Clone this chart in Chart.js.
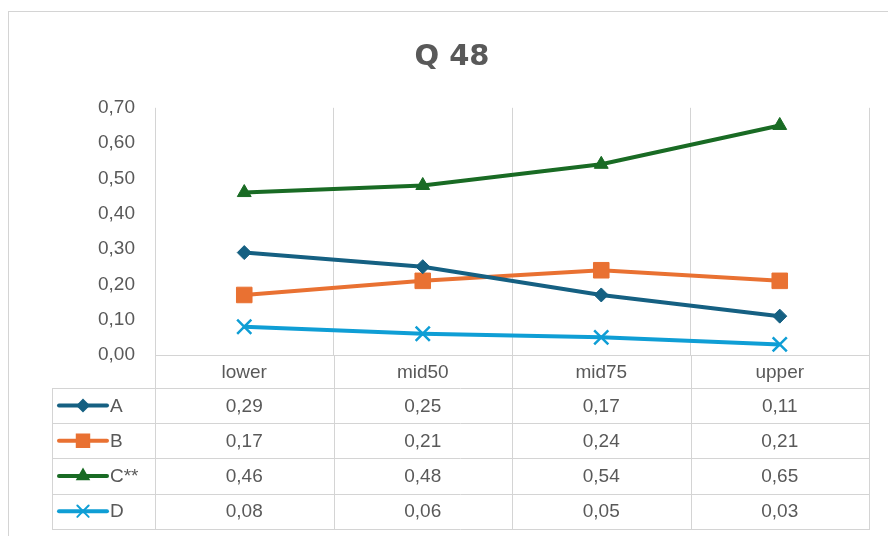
<!DOCTYPE html>
<html>
<head>
<meta charset="utf-8">
<script src="https://cdn.jsdelivr.net/npm/chart.js@4"></script>
<style>
  html, body { margin: 0; padding: 0; background: #fff; }
  canvas { display: block; }
</style>
</head>
<body>
<canvas id="chart" width="888" height="536"></canvas>
<script>
// data
const categories = ['lower', 'mid50', 'mid75', 'upper'];
const seriesNames = ['A', 'B', 'C**', 'D'];
const valuesA = [0.29, 0.25, 0.17, 0.11];
const valuesB = [0.17, 0.21, 0.24, 0.21];
const valuesC = [0.46, 0.48, 0.54, 0.65];
const valuesD = [0.08, 0.06, 0.05, 0.03];
const yTicks = [0, 0.1, 0.2, 0.3, 0.4, 0.5, 0.6, 0.7];

const colors = ['#156082', '#E97132', '#196B24', '#0F9ED5'];
const styles = ['rectRot', 'rect', 'triangle', 'crossRot'];
const radii = [7, 11, 8, 10];
const allValues = [valuesA, valuesB, valuesC, valuesD];

const fmt = v => v.toFixed(2).replace('.', ',');
const textColor = '#595959';
const gridColor = '#d4d4d4';
const bodyFont = '19px "Liberation Sans", Arial, sans-serif';

// rahmen + datentabelle unter dem diagramm
const tablePlugin = {
  id: 'dataTable',
  beforeDraw(chart) {
    const ctx = chart.ctx;
    ctx.save();
    ctx.fillStyle = '#fff';
    ctx.fillRect(0, 0, chart.width, chart.height);
    ctx.strokeStyle = gridColor;
    ctx.lineWidth = 1;
    ctx.strokeRect(8.5, 11.5, chart.width + 20, chart.height + 20);
    ctx.restore();
  },
  afterDraw(chart) {
    const ctx = chart.ctx;
    const xs = chart.scales.x;
    const area = chart.chartArea;
    const half = (xs.getPixelForValue(1) - xs.getPixelForValue(0)) / 2;
    const headTop = area.bottom;
    const headH = 33;
    const rowH = 35.2;
    const tableLeft = 52;
    const legendRight = area.left;
    const bottom = headTop + headH + rowH * seriesNames.length;

    ctx.save();
    ctx.strokeStyle = gridColor;
    ctx.lineWidth = 1;
    ctx.beginPath();
    // horizontale linien
    ctx.moveTo(legendRight, Math.round(headTop) + 0.5);
    ctx.lineTo(area.right, Math.round(headTop) + 0.5);
    for (let r = 0; r <= seriesNames.length; r++) {
      const y = Math.round(headTop + headH + r * rowH) + 0.5;
      ctx.moveTo(tableLeft, y);
      ctx.lineTo(area.right, y);
    }
    // vertikale linien
    ctx.moveTo(tableLeft + 0.5, Math.round(headTop + headH));
    ctx.lineTo(tableLeft + 0.5, Math.round(bottom) + 1);
    for (let i = 0; i <= categories.length; i++) {
      const x = Math.round(xs.getPixelForValue(i) - half) + 0.5;
      ctx.moveTo(x, headTop);
      ctx.lineTo(x, Math.round(bottom) + 1);
    }
    ctx.stroke();

    ctx.font = bodyFont;
    ctx.fillStyle = textColor;
    ctx.textAlign = 'center';
    ctx.textBaseline = 'middle';
    categories.forEach((c, i) => {
      ctx.fillText(c, xs.getPixelForValue(i), headTop + headH / 2 + 1);
    });

    seriesNames.forEach((name, r) => {
      const cy = headTop + headH + r * rowH + rowH / 2;
      allValues[r].forEach((v, i) => {
        ctx.fillStyle = textColor;
        ctx.textAlign = 'center';
        ctx.fillText(fmt(v), xs.getPixelForValue(i), cy + 1);
      });
      // legendenschluessel
      ctx.strokeStyle = colors[r];
      ctx.fillStyle = colors[r];
      ctx.lineWidth = 4;
      ctx.lineCap = 'round';
      ctx.beginPath();
      ctx.moveTo(59, cy);
      ctx.lineTo(107, cy);
      ctx.stroke();
      ctx.lineWidth = 2;
      Chart.helpers.drawPoint(ctx, {
        pointStyle: styles[r], radius: radii[r] * 0.8, borderWidth: 2, rotation: 0
      }, 83, cy);
      ctx.fillStyle = textColor;
      ctx.textAlign = 'left';
      ctx.fillText(name, 110, cy + 1);
    });
    ctx.restore();
  }
};

new Chart(document.getElementById('chart'), {
  type: 'line',
  data: {
    labels: categories,
    datasets: seriesNames.map((name, i) => ({
      label: name,
      data: allValues[i],
      borderColor: colors[i],
      backgroundColor: colors[i],
      borderWidth: 4,
      pointStyle: styles[i],
      pointRadius: radii[i],
      pointBorderWidth: styles[i] === 'crossRot' ? 2.5 : 1,
      tension: 0
    }))
  },
  options: {
    responsive: false,
    animation: false,
    layout: { padding: { left: 35, right: 19, top: 0, bottom: 181 } },
    plugins: {
      legend: { display: false },
      tooltip: { enabled: false },
      title: {
        display: true,
        text: 'Q 48',
        color: textColor,
        font: { family: '"DejaVu Sans", sans-serif', size: 29, weight: 'bold' },
        padding: { top: 40, bottom: 33 }
      }
    },
    scales: {
      x: {
        offset: true,
        grid: { offset: true, color: gridColor, drawTicks: false },
        border: { display: false },
        ticks: { display: false }
      },
      y: {
        min: 0,
        max: 0.7,
        afterBuildTicks: s => { s.ticks = yTicks.map(v => ({ value: v })); },
        afterFit: s => { s.width = 120; },
        grid: { display: false, drawTicks: false },
        border: { display: false },
        ticks: {
          padding: 20,
          color: textColor,
          font: { family: '"Liberation Sans", Arial, sans-serif', size: 19 },
          callback: v => fmt(v)
        }
      }
    }
  },
  plugins: [tablePlugin]
});
</script>
</body>
</html>
